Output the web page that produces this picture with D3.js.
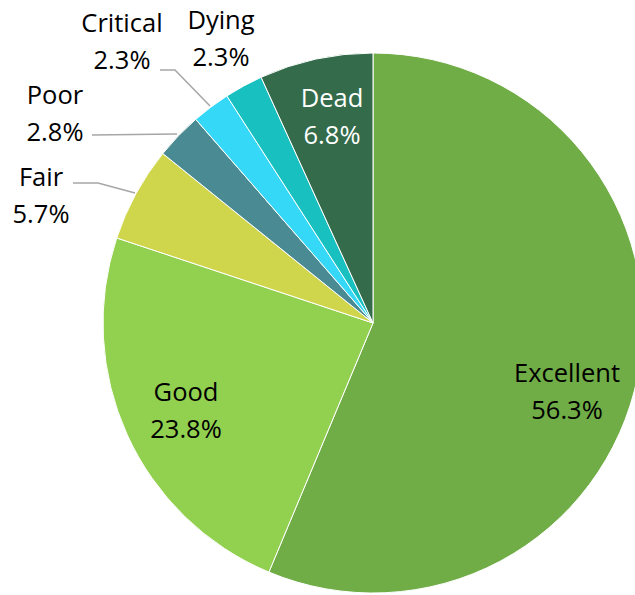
<!DOCTYPE html>
<html>
<head>
<meta charset="utf-8">
<script src="https://cdn.jsdelivr.net/npm/d3@7"></script>
<style>
  body { margin: 0; background: #fff; }
  text { font-family: "Open Sans", "Noto Sans", sans-serif; font-size: 25.5px; }
</style>
</head>
<body>
<div id="chart"></div>
<script>
// chart data
const categories = ["Excellent", "Good", "Fair", "Poor", "Critical", "Dying", "Dead"];
const values = [56.3, 23.8, 5.7, 2.8, 2.3, 2.3, 6.8];
const colors = ["#70AD47", "#92D050", "#CFD64B", "#4A8A93", "#36D8F8", "#18C0C0", "#336B4B"];

const svgWidth = 635;
const svgHeight = 595;
const cx = 373, cy = 323, radius = 270;

// label placement (layout only)
const labelPos = {
    Excellent: { x: 567, y: 373, fill: "#000" },
    Good: { x: 186, y: 392, fill: "#000" },
    Fair: { x: 41, y: 177, fill: "#000" },
    Poor: { x: 55, y: 95, fill: "#000" },
    Critical: { x: 122, y: 23, fill: "#000" },
    Dying: { x: 221, y: 20, fill: "#000" },
    Dead: { x: 332, y: 98, fill: "#fff" }
};
const leaders = {
    Fair: [[73, 183], [98, 183], [135, 193]],
    Poor: [[92, 135], [177, 134]],
    Critical: [[160, 70], [175, 70], [210, 106]]
};

const svg = d3.select("#chart")
    .append("svg")
    .attr("width", svgWidth)
    .attr("height", svgHeight);

const pie = d3.pie().sort(null).value(d => d.value);
const arc = d3.arc().innerRadius(0).outerRadius(radius);

const slices = categories.map((c, i) => ({ name: c, value: values[i], color: colors[i] }));

const g = svg.append("g")
    .attr("transform", `translate(${cx}, ${cy})`);

g.selectAll("path")
    .data(pie(slices))
    .enter().append("path")
    .attr("d", arc)
    .attr("fill", d => d.data.color)
    .attr("stroke", "#fff")
    .attr("stroke-width", 1);

// leader lines
const line = d3.line();
Object.keys(leaders).forEach(k => {
    svg.append("path")
        .attr("d", line(leaders[k]))
        .attr("fill", "none")
        .attr("stroke", "#A6A6A6")
        .attr("stroke-width", 1.5);
});

// labels
const labels = svg.selectAll(".lbl")
    .data(slices)
    .enter().append("text")
    .attr("class", "lbl")
    .attr("text-anchor", "middle")
    .attr("fill", d => labelPos[d.name].fill)
    .attr("transform", d => `translate(${labelPos[d.name].x}, ${labelPos[d.name].y})`);

labels.append("tspan")
    .attr("x", 0)
    .attr("dy", "0.35em")
    .text(d => d.name);

labels.append("tspan")
    .attr("x", 0)
    .attr("dy", 37)
    .text(d => d.value.toFixed(1) + "%");
</script>
</body>
</html>
